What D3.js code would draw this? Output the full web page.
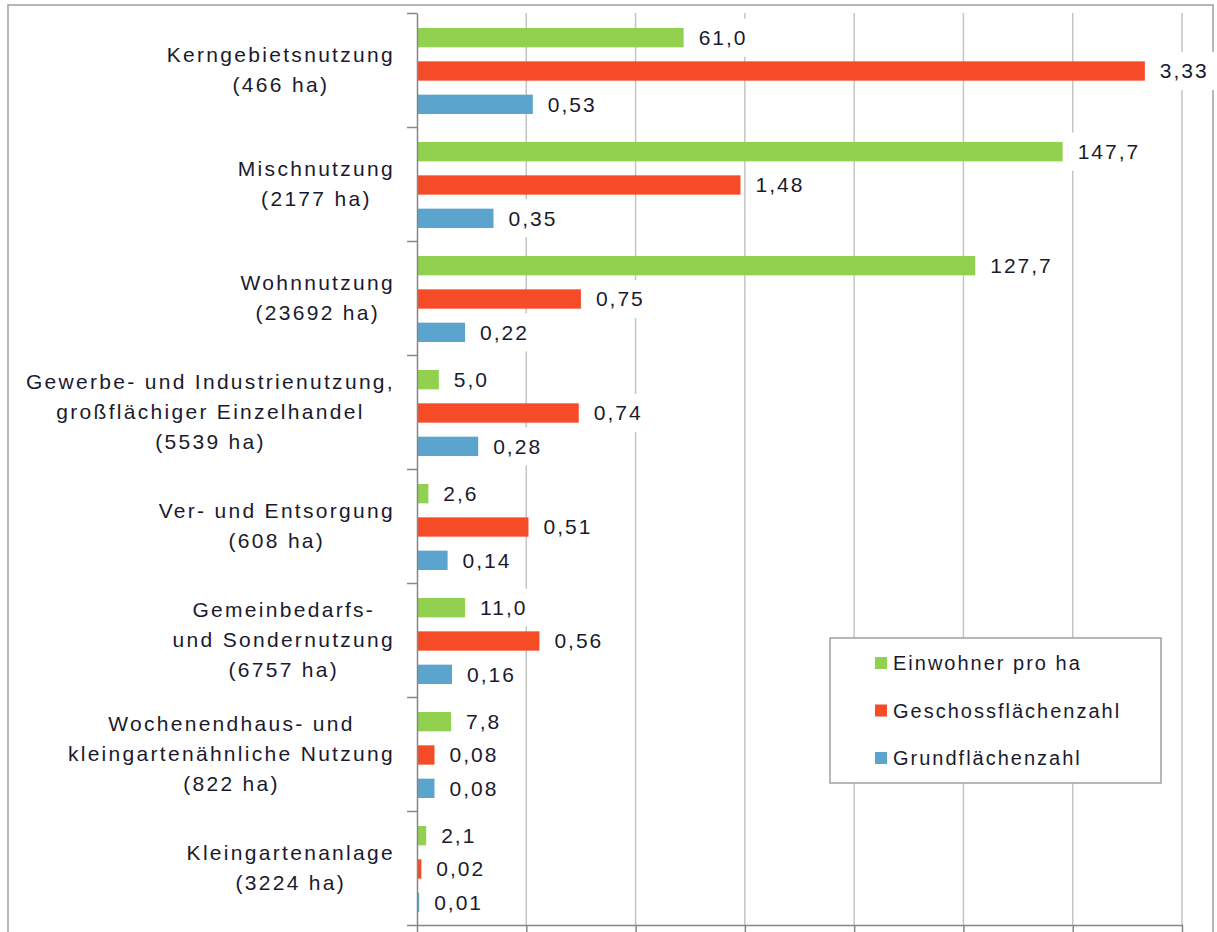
<!doctype html>
<html>
<head>
    <meta http-equiv="Content-type" content="text/html; charset=utf-8"/>
    <script src="https://d3js.org/d3.v7.min.js"></script>
    <style>
        body { margin: 0; background: #fff; }
        text { font-family: "Liberation Sans", Arial, sans-serif; fill: #1a1a2e; }
        .axis path, .axis line { stroke: #868686; stroke-width: 1.5; }
    </style>
</head>
<body>
<svg width="1217" height="932"></svg>
<script>
    // data
    var categories = [
        ["Kerngebietsnutzung", "(466 ha)"],
        ["Mischnutzung", "(2177 ha)"],
        ["Wohnnutzung", "(23692 ha)"],
        ["Gewerbe- und Industrienutzung,", "großflächiger Einzelhandel", "(5539 ha)"],
        ["Ver- und Entsorgung", "(608 ha)"],
        ["Gemeinbedarfs-", "und Sondernutzung", "(6757 ha)"],
        ["Wochenendhaus- und", "kleingartenähnliche Nutzung", "(822 ha)"],
        ["Kleingartenanlage", "(3224 ha)"]
    ];
    var einwohner = [61.0, 147.7, 127.7, 5.0, 2.6, 11.0, 7.8, 2.1];
    var gfz = [3.33, 1.48, 0.75, 0.74, 0.51, 0.56, 0.08, 0.02];
    var grz = [0.53, 0.35, 0.22, 0.28, 0.14, 0.16, 0.08, 0.01];
    var seriesNames = ["Einwohner pro ha", "Geschossflächenzahl", "Grundflächenzahl"];
    var colors = ["#92d050", "#f64b27", "#5aa4cd"];

    var de = d3.formatLocale({decimal: ",", thousands: ".", grouping: [3], currency: ["", " €"]});
    var fmt1 = de.format(".1f"), fmt2 = de.format(".2f");

    var svg = d3.select("svg");
    var plotL = 417, plotR = 1182, plotT = 13, plotB = 925;

    // outer chart border
    svg.append("rect").attr("x", 8).attr("y", 5).attr("width", 1205).attr("height", 940)
        .attr("fill", "none").attr("stroke", "#a0a0a0").attr("stroke-width", 1.5);

    var xPop = d3.scaleLinear().domain([0, 175]).range([plotL, plotR]);
    var xRatio = d3.scaleLinear().domain([0, 3.5]).range([plotL, plotR]);
    var y = d3.scaleBand().domain(d3.range(categories.length)).range([plotT, plotB]);
    var ySub = d3.scaleBand().domain([0, 1, 2]).range([1, y.bandwidth() + 1]).padding(0.42);

    var gridLayer = svg.append("g");
    var bgLayer = svg.append("g");
    var barLayer = svg.append("g");
    var labLayer = svg.append("g");

    // gridlines
    gridLayer.selectAll("line")
        .data(xRatio.ticks(7).slice(1))
        .enter().append("line")
        .attr("x1", function(d) { return xRatio(d); })
        .attr("x2", function(d) { return xRatio(d); })
        .attr("y1", plotT).attr("y2", plotB)
        .attr("stroke", "#c4c4c4").attr("stroke-width", 1.5);

    // flat rows: one per bar
    var rows = [];
    categories.forEach(function(c, i) {
        rows.push({cat: i, s: 0, x: xPop(einwohner[i]), label: fmt1(einwohner[i])});
        rows.push({cat: i, s: 1, x: xRatio(gfz[i]), label: fmt2(gfz[i])});
        rows.push({cat: i, s: 2, x: xRatio(grz[i]), label: fmt2(grz[i])});
    });
    function barY(d) { return y(d.cat) + ySub(d.s); }
    function midY(d) { return barY(d) + ySub.bandwidth() / 2; }

    barLayer.selectAll("rect")
        .data(rows).enter().append("rect")
        .attr("x", plotL)
        .attr("y", barY)
        .attr("width", function(d) { return d.x - plotL; })
        .attr("height", ySub.bandwidth())
        .attr("fill", function(d) { return colors[d.s]; });

    // value labels, with white boxes that hide the gridlines
    labLayer.selectAll("text")
        .data(rows).enter().append("text")
        .attr("x", function(d) { return d.x + 15; })
        .attr("y", midY)
        .attr("dy", "0.35em")
        .attr("font-size", 21)
        .attr("letter-spacing", 2)
        .text(function(d) { return d.label; })
        .each(function(d) {
            var w = this.getBBox().width;
            bgLayer.append("rect").attr("fill", "#fff")
                .attr("x", d.x + 6).attr("width", w + 16)
                .attr("y", midY(d) - 19).attr("height", 38);
        });

    // axes
    var yb = d3.scaleLinear().domain([0, categories.length]).range([plotT, plotB]);
    svg.append("g").attr("class", "axis")
        .attr("transform", "translate(" + plotL + ",0)")
        .call(d3.axisLeft(yb).tickValues(d3.range(categories.length + 1)).tickSize(10).tickSizeOuter(0).tickFormat(""));
    svg.append("g").attr("class", "axis")
        .attr("transform", "translate(0," + plotB + ")")
        .call(d3.axisBottom(xRatio).ticks(7).tickSize(10).tickSizeOuter(0).tickFormat(""));

    // category labels, lines centred in a block right-aligned near the axis
    categories.forEach(function(lines, i) {
        var g = svg.append("g");
        var cy = y(i) + y.bandwidth() / 2;
        var t = g.selectAll("text").data(lines).enter().append("text")
            .attr("font-size", 21).attr("letter-spacing", 2.3)
            .attr("text-anchor", "middle")
            .attr("y", function(d, k) { return cy + (k - (lines.length - 1) / 2) * 30; })
            .attr("dy", "0.35em")
            .text(function(d) { return d; });
        var maxW = d3.max(t.nodes(), function(n) { return n.getBBox().width; });
        t.attr("x", 395 - maxW / 2);
    });

    // legend
    var lg = svg.append("g");
    lg.append("rect").attr("x", 830).attr("y", 638).attr("width", 331).attr("height", 145)
        .attr("fill", "#fff").attr("stroke", "#a0a0a0").attr("stroke-width", 1.5);
    var item = lg.selectAll("g").data(seriesNames).enter().append("g")
        .attr("transform", function(d, i) { return "translate(0," + (663 + i * 47.5) + ")"; });
    item.append("rect").attr("x", 875).attr("y", -6).attr("width", 12).attr("height", 12)
        .attr("fill", function(d, i) { return colors[i]; });
    item.append("text").attr("x", 893).attr("dy", "0.35em")
        .attr("font-size", 20).attr("letter-spacing", 2)
        .text(function(d) { return d; });
</script>
</body>
</html>
